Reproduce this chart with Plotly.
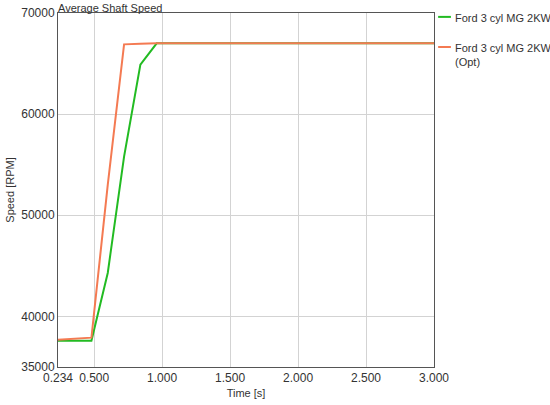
import plotly.graph_objects as go

# Time samples [s]
time_s = [0.234, 0.36, 0.48, 0.6, 0.72, 0.84, 0.96, 3.0]

# Average shaft speed [RPM]
speed_base = [37600, 37600, 37600, 44300, 55800, 64900, 67000, 67000]
speed_opt = [37700, 37800, 37900, 53000, 66900, 66950, 67000, 67000]

series_names = ["Ford 3 cyl MG 2KW", "Ford 3 cyl MG 2KW<br>(Opt)"]
series_colors = ["#22bb22", "#f47a52"]

x_tickvals = [0.234, 0.5, 1.0, 1.5, 2.0, 2.5, 3.0]
x_ticktext = ["0.234", "0.500", "1.000", "1.500", "2.000", "2.500", "3.000"]
y_tickvals = [35000, 40000, 50000, 60000, 70000]
y_ticktext = ["35000", "40000", "50000", "60000", "70000"]

FONT = "Arial, Liberation Sans, sans-serif"

fig = go.Figure()
for ys, name, color in zip([speed_base, speed_opt], series_names, series_colors):
    fig.add_trace(go.Scatter(
        x=time_s, y=ys, mode="lines", name=name,
        line=dict(color=color, width=2), showlegend=False,
    ))

axis_common = dict(
    showline=True, mirror=True, linecolor="#555555", linewidth=1,
    showgrid=True, gridcolor="#d3d3d3", gridwidth=1,
    zeroline=False, ticks="", tickfont=dict(size=12, color="#333333"),
    automargin=False,
)

fig.update_xaxes(
    range=[0.234, 3.0], tickvals=x_tickvals, ticktext=x_ticktext,
    title=dict(text="Time [s]", font=dict(size=11, color="#333333"), standoff=4),
    **axis_common,
)
fig.update_yaxes(
    range=[35000, 70000], tickvals=y_tickvals, ticktext=y_ticktext,
    title=dict(text="Speed [RPM]", font=dict(size=11, color="#333333"), standoff=4),
    **axis_common,
)

# chart title, top-left above the frame
fig.add_annotation(
    text="Average Shaft Speed", xref="paper", yref="paper", x=0, y=1,
    xanchor="left", yanchor="bottom", showarrow=False,
    font=dict(size=11, color="#333333"), yshift=-3, xshift=-2,
)

# compact legend at the right of the plot
legend_y = [0.989, 0.904]
for ly, name, color in zip(legend_y, series_names, series_colors):
    fig.add_shape(
        type="line", xref="paper", yref="paper",
        x0=1.011, x1=1.045, y0=ly, y1=ly,
        line=dict(color=color, width=2),
    )
    fig.add_annotation(
        text=name, xref="paper", yref="paper", x=1.05, y=ly,
        xanchor="left", yanchor="top", yshift=7, showarrow=False, align="left",
        font=dict(size=11, color="#333333"),
    )

fig.update_layout(
    width=550, height=405,
    margin=dict(l=58, r=116, t=13, b=38),
    paper_bgcolor="white", plot_bgcolor="white",
    font=dict(family=FONT, color="#333333"),
)

# drop the default page margin so the figure fills the window
fig.write_html(
    "out.html",
    config={"displayModeBar": False},
    post_script="document.body.style.margin='0px';",
)
